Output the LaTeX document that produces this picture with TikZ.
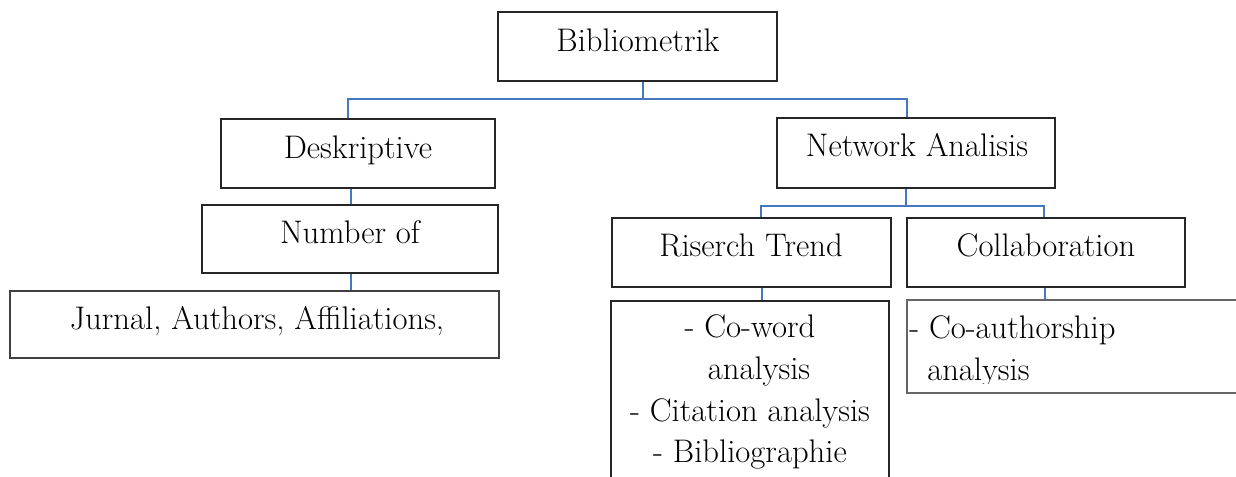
\documentclass[tikz,border=0pt]{standalone}
\definecolor{linkblue}{RGB}{70,120,192}
\begin{document}
\begin{tikzpicture}[x=0.75pt,y=-0.75pt,
  bx/.style 2 args={draw=black!85, line width=1pt, rectangle, inner sep=0pt, minimum width=#1*0.75pt, minimum height=#2*0.75pt},
  link/.style={draw=linkblue, line width=1.6pt},
  txt/.style={font=\fontsize{24.5}{30}\selectfont, inner sep=0pt, anchor=base},
  txtw/.style={font=\fontsize{24.5}{30}\selectfont, inner sep=0pt, anchor=base west}]
\useasboundingbox (0,0) rectangle (1236,476);
\clip (0,0) rectangle (1236,476);
\fill[white] (0,0) rectangle (1236,476);
% boxes
\node[bx={279}{69}] (top) at (637.5,46.5) {};
\node[bx={274}{69}] (desk) at (358,153.5) {};
\node[bx={278}{70}] (net) at (916,153) {};
\node[bx={296}{68}] (num) at (350,239) {};
\node[bx={489}{67}, draw=black!75] (jur) at (254.5,324.5) {};
\node[bx={279}{69}] (ris) at (751.5,252.5) {};
\node[bx={278}{69}] (col) at (1046,252.5) {};
\node[bx={278}{199}] (risl) at (750,400.5) {};
\node[bx={343}{93}, draw=black!60] (coll) at (1078.5,346.5) {};
% texts
\node[txt] (ttop) at (638,51) {Bibliometrik};
\node[txt] (tdesk) at (358,158) {Deskriptive};
\node[txt] (tnet) at (917,156) {Network Analisis};
\node[txt] (tnum) at (350,243) {Number of};
\node[txt] (tjur) at (257,329) {Jurnal, Authors, Affiliations,};
\node[txt] (tris) at (751,256) {Riserch Trend};
\node[txt] (tcol) at (1046,256) {Collaboration};
\node[txt] (tr1) at (750,337) {- Co-word};
\node[txt] (tr2) at (759,379) {analysis};
\node[txt] (tr3) at (750,421) {- Citation analysis};
\node[txt] (tr4) at (750,462) {- Bibliographie};
\begin{scope}
\clip (907,300) rectangle (1236,383);
\node[txtw] (tc1) at (909,338) {- Co-authorship};
\node[txtw] (tc2) at (927,380) {analysis};
\end{scope}
% connectors
\coordinate (jt) at (643,99);
\coordinate (jl) at (348,99);
\coordinate (jr) at (907,99);
\coordinate (jd) at (351,0);
\coordinate (jn) at (906,206);
\coordinate (jnl) at (761,206);
\coordinate (jnr) at (1044,206);
\coordinate (jrs) at (762,0);
\coordinate (jcs) at (1045,0);
\draw[link] (top.south -| jt) -- (jt);
\draw[link] (desk.north -| jl) -- (jl) -- (jr) -- (net.north -| jr);
\draw[link] (desk.south -| jd) -- (num.north -| jd);
\draw[link] (num.south -| jd) -- (jur.north -| jd);
\draw[link] (net.south -| jn) -- (jn);
\draw[link] (ris.north -| jnl) -- (jnl) -- (jnr) -- (col.north -| jnr);
\draw[link] (ris.south -| jrs) -- (risl.north -| jrs);
\draw[link] (col.south -| jcs) -- (coll.north -| jcs);
\end{tikzpicture}
\end{document}
